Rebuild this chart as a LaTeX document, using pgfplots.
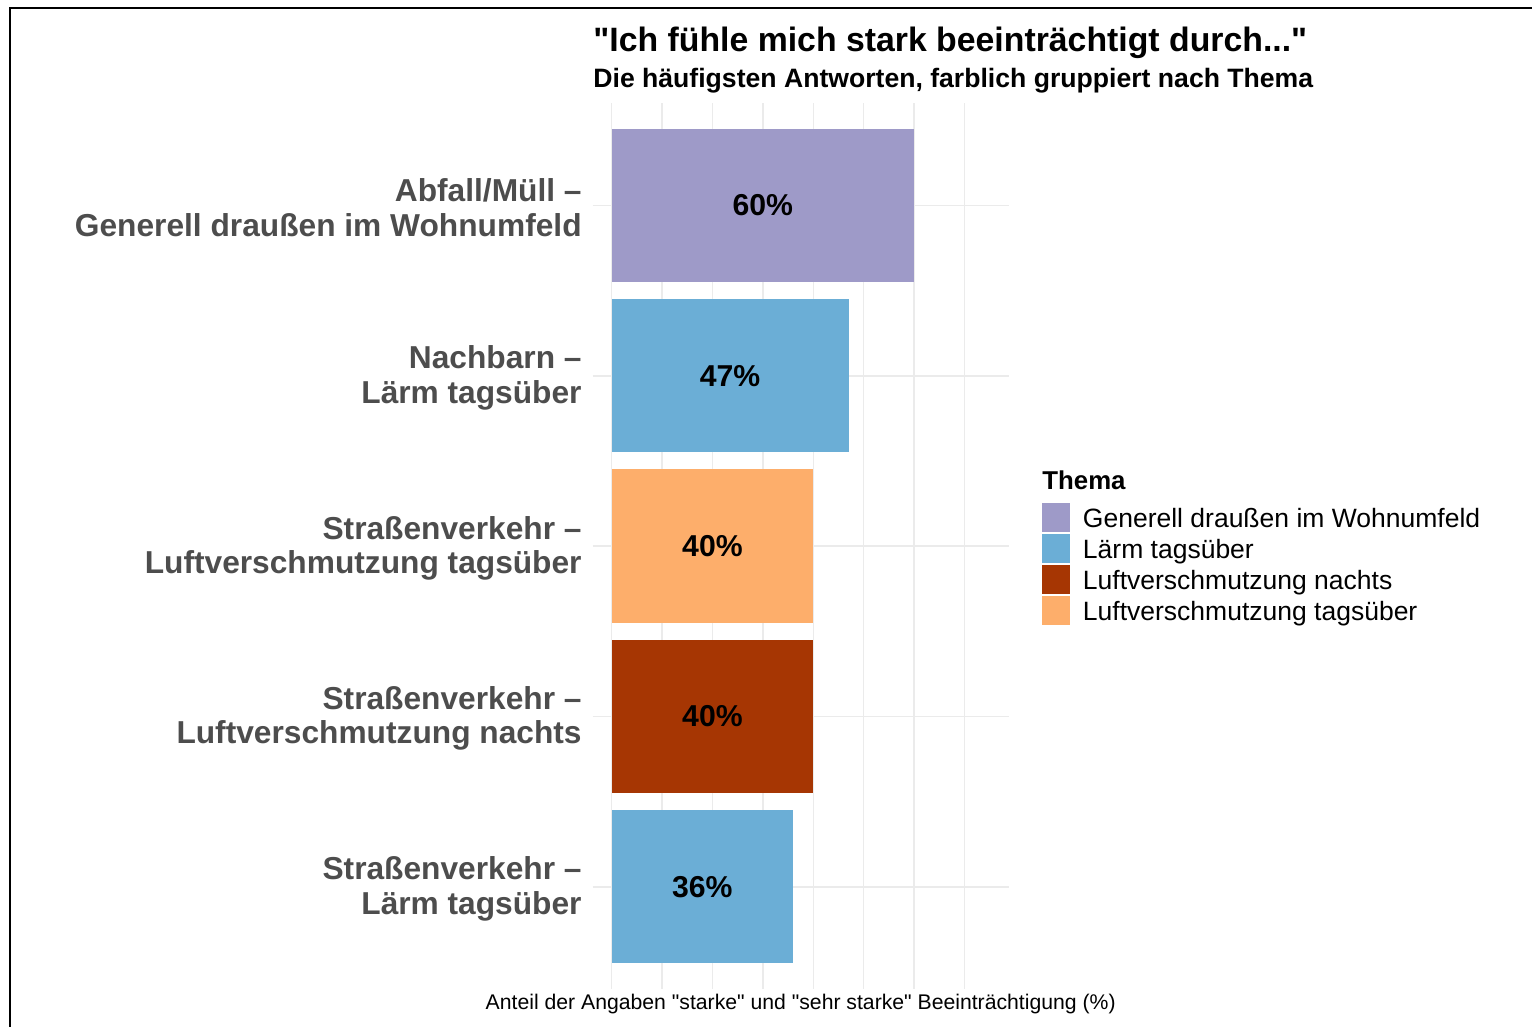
\documentclass[border=0pt]{standalone}
\usepackage{pgfplots}
\pgfplotsset{compat=1.18}
\usepackage{fontspec}
\setmainfont{Liberation Sans}[Ligatures=TeXOff]
\definecolor{cPurple}{HTML}{9E9AC8}
\definecolor{cBlue}{HTML}{6BAED6}
\definecolor{cRed}{HTML}{A63603}
\definecolor{cOrange}{HTML}{FDAE6B}
\definecolor{cGray}{HTML}{4D4D4D}
\definecolor{cGrid}{HTML}{EBEBEB}
\begin{document}
\begin{tikzpicture}
\useasboundingbox (0,0) rectangle (766pt,-513.5pt);
\draw[line width=1pt, black] (4.9pt,-530pt) -- (4.9pt,-4.1pt) -- (780pt,-4.1pt);
\begin{axis}[
  at={(296.35pt,-51.65pt)}, anchor=north west,
  scale only axis, width=208pt, height=442.85pt,
  xmin=-3.75, xmax=78.75, ymin=0.4, ymax=5.6,
  axis line style={draw=none},
  tick style={draw=none},
  xtick={0,10,...,70}, xticklabels={},
  ytick={1,2,3,4,5},
  yticklabels={{Straßenverkehr –\\Lärm tagsüber},{Straßenverkehr –\\Luftverschmutzung nachts},{Straßenverkehr –\\Luftverschmutzung tagsüber},{Nachbarn –\\Lärm tagsüber},{Abfall/Müll –\\Generell draußen im Wohnumfeld}},
  yticklabel style={align=right, inner sep=0pt, xshift=-5.35pt, yshift=-1pt, font=\bfseries\fontsize{15.85}{17.2}\selectfont, text=cGray},
  grid=major, major grid style={draw=cGrid, line width=0.75pt},
  xlabel={Anteil der Angaben "starke" und "sehr starke" Beeinträchtigung (\%)},
  every axis x label/.style={at={(axis description cs:0.5,0)}, anchor=base, yshift=-10.5pt, font=\fontsize{10.6}{12}\selectfont},
  legend cell align=left,
  legend image code/.code={\fill[#1] (0pt,-7.25pt) rectangle (14pt,7.25pt);},
  legend style={draw=none, fill=none, inner sep=0pt, outer sep=0pt,
    at={(1.080,0.5487)}, anchor=north west, row sep=1pt,
    nodes={inner sep=0pt, text height=9.5pt, text depth=0pt, font=\fontsize{13.25}{15}\selectfont},
    /tikz/every odd column/.append style={column sep=6.5pt}},
]
\addplot[xbar, bar width=0.9, bar shift=0pt, fill=cPurple, draw=none] coordinates {(60,5)};
\addlegendentry{Generell draußen im Wohnumfeld}
\addplot[xbar, bar width=0.9, bar shift=0pt, fill=cBlue, draw=none] coordinates {(47,4)};
\addlegendentry{Lärm tagsüber}
\addplot[xbar, bar width=0.9, bar shift=0pt, fill=cRed, draw=none] coordinates {(40,2)};
\addlegendentry{Luftverschmutzung nachts}
\addplot[xbar, bar width=0.9, bar shift=0pt, fill=cOrange, draw=none] coordinates {(40,3)};
\addlegendentry{Luftverschmutzung tagsüber}
\addplot[xbar, bar width=0.9, bar shift=0pt, fill=cBlue, draw=none, forget plot] coordinates {(36,1)};
\addplot[only marks, mark=*, mark size=0pt, mark options={draw=none, fill=none}, forget plot,
  nodes near coords, point meta=explicit symbolic,
  every node near coord/.style={anchor=center, font=\bfseries\fontsize{15.1}{16}\selectfont, text=black}]
  coordinates {(30,5)[60\%] (23.5,4)[47\%] (20,3)[40\%] (20,2)[40\%] (18,1)[36\%]};
\end{axis}
\node[anchor=base west, inner sep=0pt, font=\bfseries\fontsize{16.9}{20}\selectfont] at (296.5pt,-26pt) {"Ich fühle mich stark beeinträchtigt durch..."};
\node[anchor=base west, inner sep=0pt, font=\bfseries\fontsize{13.3}{15}\selectfont] at (296.5pt,-44pt) {Die häufigsten Antworten, farblich gruppiert nach Thema};
\node[anchor=base west, inner sep=0pt, font=\bfseries\fontsize{12.9}{15}\selectfont] at (521pt,-244.5pt) {Thema};
\end{tikzpicture}
\end{document}
